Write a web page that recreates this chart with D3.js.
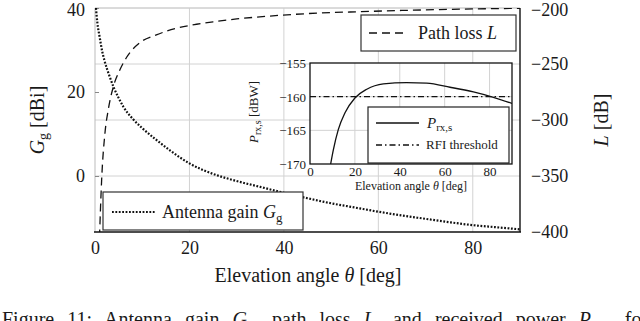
<!DOCTYPE html>
<html>
<head>
<meta charset="utf-8">
<script src="https://cdn.jsdelivr.net/npm/d3@7"></script>
<style>
  body { margin: 0; background: #fff; }
  text { font-family: 'Liberation Serif', serif; fill: #1a1a1a; }
</style>
</head>
<body>
<div class="canvas"></div>
<script>
// antenna gain G_g [dBi] vs elevation angle
const thetaG = [0.2, 0.5, 1, 1.5, 2, 3, 4, 5, 6, 8, 10, 13, 16, 20, 25, 30, 35, 40, 45, 50, 55, 60, 65, 70, 75, 80, 85, 90]
const gainG = [40, 36.5, 33, 29.8, 27.5, 24, 21, 18.6, 16.5, 13.6, 11.4, 8.6, 6, 3, 0.5, -1.2, -2.6, -4, -5.3, -6.5, -7.5, -8.5, -9.4, -10.2, -11, -11.7, -12.2, -12.7]

// path loss L [dB]
const thetaL = [0.95, 1.4, 2.1, 2.8, 3.9, 5.3, 6.7, 9.5, 13, 17.3, 21.5, 25, 30, 39, 45, 56, 65, 75, 90]
const lossL = [-405, -354, -312, -291, -270, -255, -244, -231, -224, -218, -214.5, -212.3, -209.8, -206.6, -205, -203.3, -202.2, -201.2, -200.3]

// received power P_rx,s [dBW] (inset)
const thetaP = [9.2, 10.4, 12.6, 15.6, 20, 25.3, 32.7, 43, 52, 62.4, 72.8, 81.7, 90]
const powerP = [-170, -167.9, -164.9, -162.4, -160.2, -158.9, -158.1, -157.9, -158.0, -158.6, -159.3, -160.1, -161.0]
const rfiThreshold = -160

const xTicks = [0, 20, 40, 60, 80]
const gTicks = [0, 20, 40]
const lTicks = [-400, -350, -300, -250, -200]
const insetXTicks = [0, 20, 40, 60, 80]
const insetYTicks = [-170, -165, -160, -155]

const svg = d3.select('.canvas').append('svg')
  .attr('width', 640)
  .attr('height', 321)

const gridColor = '#d2d2d2'
const fmt = d => d < 0 ? '\u2212' + Math.abs(d) : String(d)

// main scales
const x = d3.scaleLinear().domain([0, 90]).range([95, 520])
const yG = d3.scaleLinear().domain([-13.333, 40]).range([232, 8])
const yL = d3.scaleLinear().domain([-400, -200]).range([232, 8])

svg.append('clipPath').attr('id', 'main-clip')
  .append('rect').attr('x', 95).attr('y', 8).attr('width', 425).attr('height', 224)

// grid
svg.append('g').selectAll('line').data(xTicks.filter(d => d > 0))
  .enter().append('line')
  .attr('x1', d => x(d)).attr('x2', d => x(d))
  .attr('y1', 8).attr('y2', 232)
  .attr('stroke', gridColor)
svg.append('g').selectAll('line').data(lTicks.slice(1))
  .enter().append('line')
  .attr('x1', 95).attr('x2', 520)
  .attr('y1', d => yL(d)).attr('y2', d => yL(d))
  .attr('stroke', gridColor)

// frame: light left/top, dark bottom/right
svg.append('line').attr('x1', 95).attr('x2', 95).attr('y1', 8).attr('y2', 232).attr('stroke', '#bbb')
svg.append('line').attr('x1', 95).attr('x2', 520).attr('y1', 8).attr('y2', 8).attr('stroke', '#ccc')

// axes
const xAxis = svg.append('g').attr('transform', 'translate(0,232)')
  .call(d3.axisBottom(x).tickValues(xTicks).tickSize(0).tickPadding(9).tickFormat(fmt))
const gAxis = svg.append('g').attr('transform', 'translate(95,0)')
  .call(d3.axisLeft(yG).tickValues(gTicks).tickSize(-4).tickPadding(10).tickFormat(fmt))
const lAxis = svg.append('g').attr('transform', 'translate(520,0)')
  .call(d3.axisRight(yL).tickValues(lTicks).tickSize(0).tickPadding(11).tickFormat(fmt))

;[xAxis, gAxis, lAxis].forEach(a => {
  a.attr('font-family', null)
  a.select('.domain').remove()
  a.selectAll('text').attr('font-size', 18).attr('fill', '#1a1a1a')
})
gAxis.selectAll('line').attr('stroke', '#888')
gAxis.selectAll('text').filter(d => d === 40).attr('dy', '0.42em')
lAxis.selectAll('text').filter(d => d === -200).attr('dy', '0.42em')

svg.append('line').attr('x1', 94).attr('x2', 521).attr('y1', 232).attr('y2', 232)
  .attr('stroke', '#111').attr('stroke-width', 1.6)
svg.append('line').attr('x1', 520).attr('x2', 520).attr('y1', 8).attr('y2', 232)
  .attr('stroke', '#111').attr('stroke-width', 1.4)

// curves
const plot = svg.append('g').attr('clip-path', 'url(#main-clip)')

const lineG = d3.line().x(d => x(d[0])).y(d => yG(d[1])).curve(d3.curveMonotoneX)
const lineL = d3.line().x(d => x(d[0])).y(d => yL(d[1])).curve(d3.curveMonotoneX)

plot.append('path')
  .datum(d3.zip(thetaL, lossL))
  .attr('d', lineL)
  .attr('fill', 'none').attr('stroke', '#111')
  .attr('stroke-width', 1.3).attr('stroke-dasharray', '8,5')

plot.append('path')
  .datum(d3.zip(thetaG, gainG))
  .attr('d', lineG)
  .attr('fill', 'none').attr('stroke', '#111')
  .attr('stroke-width', 2.2).attr('stroke-dasharray', '1.8,1.6')

// legend: path loss
const legL = svg.append('g')
legL.append('rect').attr('x', 361).attr('y', 15).attr('width', 155).attr('height', 36)
  .attr('fill', '#fff').attr('stroke', '#333').attr('stroke-width', 1.2)
legL.append('line').attr('x1', 369).attr('x2', 408).attr('y1', 33).attr('y2', 33)
  .attr('stroke', '#111').attr('stroke-width', 1.3).attr('stroke-dasharray', '8,5')
const tL = legL.append('text').attr('x', 418).attr('y', 39).attr('font-size', 18)
tL.append('tspan').text('Path loss ')
tL.append('tspan').attr('font-style', 'italic').text('L')

// legend: antenna gain
const legG = svg.append('g')
legG.append('rect').attr('x', 103).attr('y', 192).attr('width', 200).attr('height', 38)
  .attr('fill', '#fff').attr('stroke', '#333').attr('stroke-width', 1.2)
legG.append('line').attr('x1', 112).attr('x2', 155).attr('y1', 212).attr('y2', 212)
  .attr('stroke', '#111').attr('stroke-width', 2.2).attr('stroke-dasharray', '1.8,1.6')
const tG = legG.append('text').attr('x', 162).attr('y', 218).attr('font-size', 18)
tG.append('tspan').text('Antenna gain ')
tG.append('tspan').attr('font-style', 'italic').text('G')
tG.append('tspan').attr('font-size', 13).attr('dy', 4).text('g')

// axis titles
const xt = svg.append('text').attr('x', 308).attr('y', 282).attr('text-anchor', 'middle').attr('font-size', 20)
xt.append('tspan').text('Elevation angle ')
xt.append('tspan').attr('font-style', 'italic').text('\u03b8')
xt.append('tspan').text(' [deg]')

const gt = svg.append('text').attr('transform', 'translate(44,120) rotate(-90)')
  .attr('text-anchor', 'middle').attr('font-size', 20)
gt.append('tspan').attr('font-style', 'italic').text('G')
gt.append('tspan').attr('font-size', 14).attr('dy', 4).text('g')
gt.append('tspan').attr('dy', -4).text(' [dBi]')

const lt = svg.append('text').attr('transform', 'translate(608,120) rotate(-90)')
  .attr('text-anchor', 'middle').attr('font-size', 20)
lt.append('tspan').attr('font-style', 'italic').text('L')
lt.append('tspan').text(' [dB]')

// inset
const xi = d3.scaleLinear().domain([0, 90]).range([310, 512])
const yi = d3.scaleLinear().domain([-170, -155]).range([164, 63])

svg.append('rect').attr('x', 310).attr('y', 63).attr('width', 202).attr('height', 101)
  .attr('fill', '#fff')

svg.append('g').selectAll('line').data(insetXTicks.filter(d => d > 0))
  .enter().append('line')
  .attr('x1', d => xi(d)).attr('x2', d => xi(d)).attr('y1', 63).attr('y2', 164)
  .attr('stroke', gridColor)
svg.append('g').selectAll('line').data(insetYTicks.slice(1, 3))
  .enter().append('line')
  .attr('x1', 310).attr('x2', 512).attr('y1', d => yi(d)).attr('y2', d => yi(d))
  .attr('stroke', gridColor)

const xiAxis = svg.append('g').attr('transform', 'translate(0,164)')
  .call(d3.axisBottom(xi).tickValues(insetXTicks).tickSize(0).tickPadding(3).tickFormat(fmt))
const yiAxis = svg.append('g').attr('transform', 'translate(310,0)')
  .call(d3.axisLeft(yi).tickValues(insetYTicks).tickSize(0).tickPadding(4).tickFormat(fmt))
;[xiAxis, yiAxis].forEach(a => {
  a.attr('font-family', null)
  a.select('.domain').remove()
  a.selectAll('text').attr('font-size', 13).attr('fill', '#222')
})
yiAxis.selectAll('text').attr('dy', '0.35em')

svg.append('clipPath').attr('id', 'inset-clip')
  .append('rect').attr('x', 310).attr('y', 63).attr('width', 202).attr('height', 101)
const inset = svg.append('g').attr('clip-path', 'url(#inset-clip)')

inset.append('line')
  .attr('x1', xi(0)).attr('x2', xi(90)).attr('y1', yi(rfiThreshold)).attr('y2', yi(rfiThreshold))
  .attr('stroke', '#111').attr('stroke-width', 1.3).attr('stroke-dasharray', '6,3,1.5,3')

inset.append('path')
  .datum(d3.zip(thetaP, powerP))
  .attr('d', d3.line().x(d => xi(d[0])).y(d => yi(d[1])).curve(d3.curveMonotoneX))
  .attr('fill', 'none').attr('stroke', '#111').attr('stroke-width', 1.3)

// inset legend
const legP = svg.append('g')
legP.append('rect').attr('x', 368).attr('y', 107).attr('width', 141).attr('height', 56)
  .attr('fill', '#fff').attr('stroke', '#222').attr('stroke-width', 1.2)
legP.append('line').attr('x1', 376).attr('x2', 419).attr('y1', 123).attr('y2', 123)
  .attr('stroke', '#111').attr('stroke-width', 1.3)
legP.append('line').attr('x1', 376).attr('x2', 419).attr('y1', 145).attr('y2', 145)
  .attr('stroke', '#111').attr('stroke-width', 1.3).attr('stroke-dasharray', '6,3,1.5,3')
const tP = legP.append('text').attr('x', 427).attr('y', 128).attr('font-size', 15)
tP.append('tspan').attr('font-style', 'italic').text('P')
tP.append('tspan').attr('font-size', 11).attr('dy', 3).text('rx,s')
legP.append('text').attr('x', 426).attr('y', 149).attr('font-size', 13).text('RFI threshold')

svg.append('rect').attr('x', 310).attr('y', 63).attr('width', 202).attr('height', 101)
  .attr('fill', 'none').attr('stroke', '#111').attr('stroke-width', 1.3)

const xit = svg.append('text').attr('x', 411).attr('y', 190).attr('text-anchor', 'middle')
  .attr('font-size', 12).attr('fill', '#333')
xit.append('tspan').text('Elevation angle ')
xit.append('tspan').attr('font-style', 'italic').text('\u03b8')
xit.append('tspan').text(' [deg]')

const yit = svg.append('text').attr('transform', 'translate(258,112) rotate(-90)')
  .attr('text-anchor', 'middle').attr('font-size', 13).attr('fill', '#333')
yit.append('tspan').attr('font-style', 'italic').text('P')
yit.append('tspan').attr('font-size', 10).attr('dy', 3).text('rx,s')
yit.append('tspan').attr('dy', -3).text(' [dBW]')

// caption (cut off by the frame), justified with word spacing
const cap = svg.append('text').attr('x', 2).attr('y', 326).attr('font-size', 20)
cap.append('tspan').text('Figure 11: Antenna gain ')
cap.append('tspan').attr('font-style', 'italic').text('G')
cap.append('tspan').attr('font-size', 14).attr('dy', 4).text('g')
cap.append('tspan').attr('dy', -4).text(', path loss ')
cap.append('tspan').attr('font-style', 'italic').text('L')
cap.append('tspan').text(', and received power ')
cap.append('tspan').attr('font-style', 'italic').text('P')
cap.append('tspan').attr('font-size', 14).attr('dy', 4).text('rx,s')
cap.append('tspan').attr('dy', -4).text(' for')
const capLen = cap.node().getComputedTextLength()
cap.style('word-spacing', `${Math.max(0, (638 - capLen) / 11)}px`)
</script>
</body>
</html>
